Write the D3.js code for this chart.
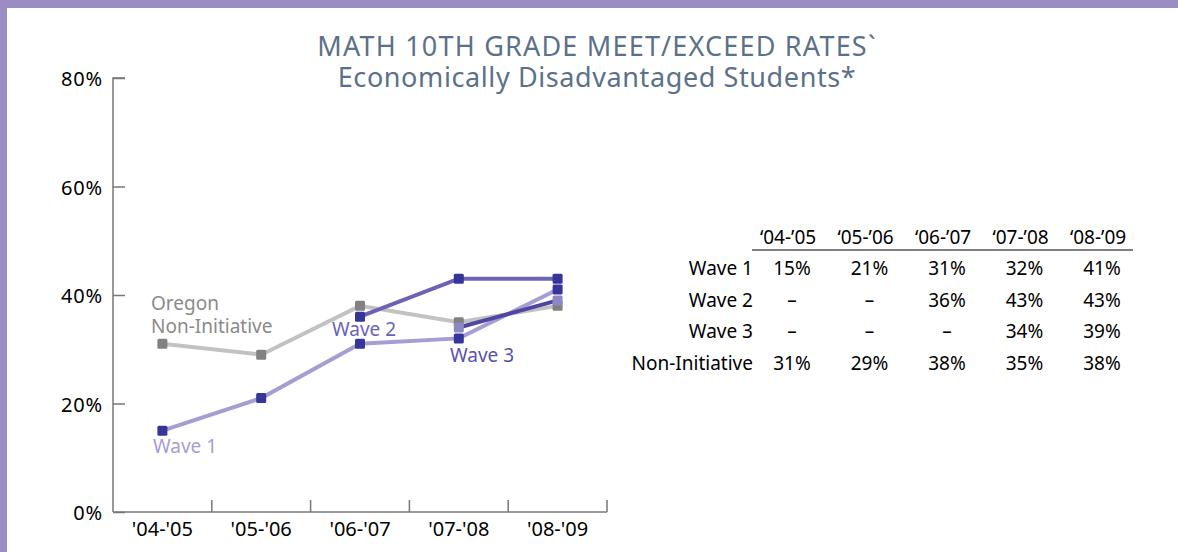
<!DOCTYPE html>
<html>
<head>
<meta charset="utf-8">
<script src="https://cdn.jsdelivr.net/npm/d3@7"></script>
<style>
  body { margin: 0; background: #fff; }
  svg { display: block; font-family: "Noto Sans", sans-serif; }
</style>
</head>
<body>
<svg id="chart" width="1178" height="552"></svg>
<script>
const years = ["'04-'05", "'05-'06", "'06-'07", "'07-'08", "'08-'09"];
const tableYears = ["\u201804-\u201905", "\u201805-\u201906", "\u201806-\u201907", "\u201807-\u201908", "\u201808-\u201909"];
const wave1 = [15, 21, 31, 32, 41];
const wave2 = [null, null, 36, 43, 43];
const wave3 = [null, null, null, 34, 39];
const nonInitiative = [31, 29, 38, 35, 38];
const yTicks = [0, 20, 40, 60, 80];
const rowNames = ["Wave 1", "Wave 2", "Wave 3", "Non-Initiative"];

const svg = d3.select('#chart');

// purple frame
svg.append('rect').attr('x', 0).attr('y', 0).attr('width', 1178).attr('height', 8).attr('fill', '#9b8cc4');
svg.append('rect').attr('x', 0).attr('y', 0).attr('width', 7).attr('height', 552).attr('fill', '#9b8cc4');

const margin = { left: 113, top: 78, right: 607, bottom: 512 };

const x = d3.scaleBand().domain(years).range([margin.left, margin.right]);
const y = d3.scaleLinear().domain([0, 80]).range([margin.bottom, margin.top]);

// title
svg.append('text').attr('x', 597).attr('y', 56).attr('text-anchor', 'middle')
  .style('font-size', '27px').style('letter-spacing', '1.2px').style('fill', '#5b7189')
  .text('MATH 10TH GRADE MEET/EXCEED RATES`');
svg.append('text').attr('x', 597).attr('y', 87).attr('text-anchor', 'middle')
  .style('font-size', '27px').style('letter-spacing', '0.6px').style('fill', '#5b7189')
  .text('Economically Disadvantaged Students*');

// y axis
const yAxis = svg.append('g').attr('transform', `translate(${margin.left},0)`)
  .call(d3.axisRight(y).tickValues(yTicks).tickSize(12).tickFormat(''));
yAxis.select('.domain').attr('d', `M12,${margin.top}H0V${margin.bottom}`).attr('stroke', '#777').attr('stroke-width', 1.5);
yAxis.selectAll('.tick line').attr('stroke', '#777').attr('stroke-width', 1.5);
svg.append('g').selectAll('text').data(yTicks).join('text')
  .attr('x', 103).attr('y', d => y(d) + 8).attr('text-anchor', 'end')
  .style('font-size', '20px').style('letter-spacing', '0.8px').style('fill', '#000').text(d => d + '%');

// x axis
const xAxis = svg.append('g').attr('transform', `translate(0,${margin.bottom})`)
  .call(d3.axisBottom(x).tickSize(0).tickFormat(''));
xAxis.select('.domain').attr('d', `M${margin.left},0H${margin.right}`).attr('stroke', '#777').attr('stroke-width', 1.5);
svg.append('g').selectAll('line').data(years).join('line')
  .attr('x1', d => x(d) + x.bandwidth()).attr('x2', d => x(d) + x.bandwidth())
  .attr('y1', margin.bottom).attr('y2', margin.bottom - 12)
  .attr('stroke', '#777').attr('stroke-width', 1.5);
svg.append('g').selectAll('text').data(years).join('text')
  .attr('x', d => x(d) + x.bandwidth() / 2).attr('y', 536).attr('text-anchor', 'middle')
  .style('font-size', '20px').style('fill', '#000').text(d => d);

const line = d3.line()
  .defined(d => d != null)
  .x((d, i) => x(years[i]) + x.bandwidth() / 2)
  .y(d => y(d));

const series = [
  { vals: nonInitiative, line: '#c2c2c2', marker: '#818181' },
  { vals: wave1, line: '#a69dd3', marker: '#36359a' },
  { vals: wave2, line: '#6d63b6', marker: '#36359a' },
  { vals: wave3, line: '#4f46a3', marker: '#8f86c4' }
];

series.forEach(s => {
  svg.append('path').datum(s.vals).attr('d', line)
    .attr('fill', 'none').attr('stroke', s.line).attr('stroke-width', 4);
});
series.forEach(s => {
  svg.append('g').selectAll('rect')
    .data(s.vals.map((v, i) => ({ v, i })).filter(d => d.v != null))
    .join('rect')
    .attr('x', d => x(years[d.i]) + x.bandwidth() / 2 - 5)
    .attr('y', d => y(d.v) - 5)
    .attr('width', 10).attr('height', 10).attr('rx', 1.5)
    .attr('fill', s.marker);
});

// series labels
const labels = [
  { text: 'Oregon', x: 151, y: 310, c: '#8a8a8a' },
  { text: 'Non-Initiative', x: 151, y: 333, c: '#8a8a8a' },
  { text: 'Wave 2', x: 332, y: 336, c: '#6a62b8' },
  { text: 'Wave 3', x: 450, y: 362, c: '#5a52ac' },
  { text: 'Wave 1', x: 153, y: 453, c: '#a69dd3' }
];
svg.append('g').selectAll('text').data(labels).join('text')
  .attr('x', d => d.x).attr('y', d => d.y)
  .style('font-size', '19px').style('fill', d => d.c).text(d => d.text);

// table
const colX = d3.scalePoint().domain(tableYears).range([788, 1098]);
const table = svg.append('g').style('font-size', '19px').style('fill', '#000');
table.selectAll('.hdr').data(tableYears).join('text').attr('class', 'hdr')
  .attr('x', d => colX(d)).attr('y', 244).attr('text-anchor', 'middle').text(d => d);
table.append('line').attr('x1', 752).attr('x2', 1133).attr('y1', 250).attr('y2', 250)
  .attr('stroke', '#000').attr('stroke-width', 1);
const rows = [wave1, wave2, wave3, nonInitiative];
const rowY = d3.scalePoint().domain(rowNames).range([275, 370]);
rowNames.forEach((name, r) => {
  table.append('text').attr('x', 753).attr('y', rowY(name)).attr('text-anchor', 'end').text(name);
  table.selectAll(null).data(rows[r]).join('text')
    .attr('x', (d, i) => colX(tableYears[i]) + 4).attr('y', rowY(name)).attr('text-anchor', 'middle')
    .text(d => d == null ? '\u2013' : d + '%');
});
</script>
</body>
</html>
